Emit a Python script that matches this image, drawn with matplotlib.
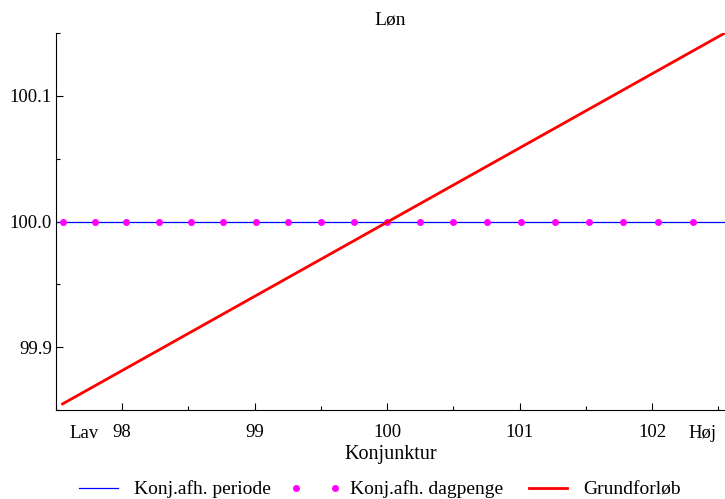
import matplotlib

matplotlib.use("Agg")
import matplotlib.pyplot as plt  # noqa: E402
from matplotlib.ticker import MultipleLocator, FormatStrFormatter  # noqa: E402

plt.rcParams["font.family"] = ["Liberation Serif", "DejaVu Serif"]

# data
periode_x = [97.5, 102.55]
periode_y = [100.0, 100.0]
dagpenge_x = [97.552, 97.793, 98.032, 98.274, 98.517, 98.758, 99.007, 99.254, 99.500, 99.749,
              100.0, 100.249, 100.500, 100.756, 101.010, 101.266, 101.523, 101.781, 102.043,
              102.305]
dagpenge_y = [100.0] * len(dagpenge_x)
grund_x = [97.55, 102.55]
grund_y = [99.855, 100.150]

fig = plt.figure(figsize=(7.25, 4.99), dpi=100)
ax = fig.add_axes([0.0772, 0.178, 0.9228, 0.756])

ax.plot(periode_x, periode_y, color="#0000ff", lw=0.9, label="Konj.afh. periode")
ax.plot(dagpenge_x, dagpenge_y, ls="none", marker="o", ms=4, color="#ff00ff",
        label="Konj.afh. dagpenge")
ax.plot(grund_x, grund_y, color="#ff0000", lw=2, label="Grundforløb")

ax.set_xlim(97.5, 102.55)
ax.set_ylim(99.85, 100.15)
ax.xaxis.set_major_locator(MultipleLocator(1))
ax.xaxis.set_minor_locator(MultipleLocator(0.5))
ax.yaxis.set_major_locator(MultipleLocator(0.1))
ax.yaxis.set_minor_locator(MultipleLocator(0.05))
ax.yaxis.set_major_formatter(FormatStrFormatter("%.1f"))
ax.tick_params(which="both", direction="in", labelsize=13.5, width=0.8)
ax.tick_params(which="major", length=5)
ax.tick_params(which="minor", length=3)
ax.tick_params(axis="x", pad=10)
ax.tick_params(axis="y", pad=3)
for side in ("top", "right"):
    ax.spines[side].set_visible(False)

ax.text(97.71, -0.04, "Lav", transform=ax.get_xaxis_transform(), ha="center", va="top",
        fontsize=13.5)
ax.text(102.38, -0.04, "Høj", transform=ax.get_xaxis_transform(), ha="center", va="top",
        fontsize=13.5)

ax.set_title("Løn", fontsize=14, pad=6)
ax.set_xlabel("Konjunktur", fontsize=14.5, labelpad=3)

fig.legend(loc="lower center", bbox_to_anchor=(0.52, -0.034), ncol=3, frameon=False,
           fontsize=14, numpoints=2, handlelength=2.6, handletextpad=0.5,
           columnspacing=1.0)

fig.savefig("out.png", dpi=100)
